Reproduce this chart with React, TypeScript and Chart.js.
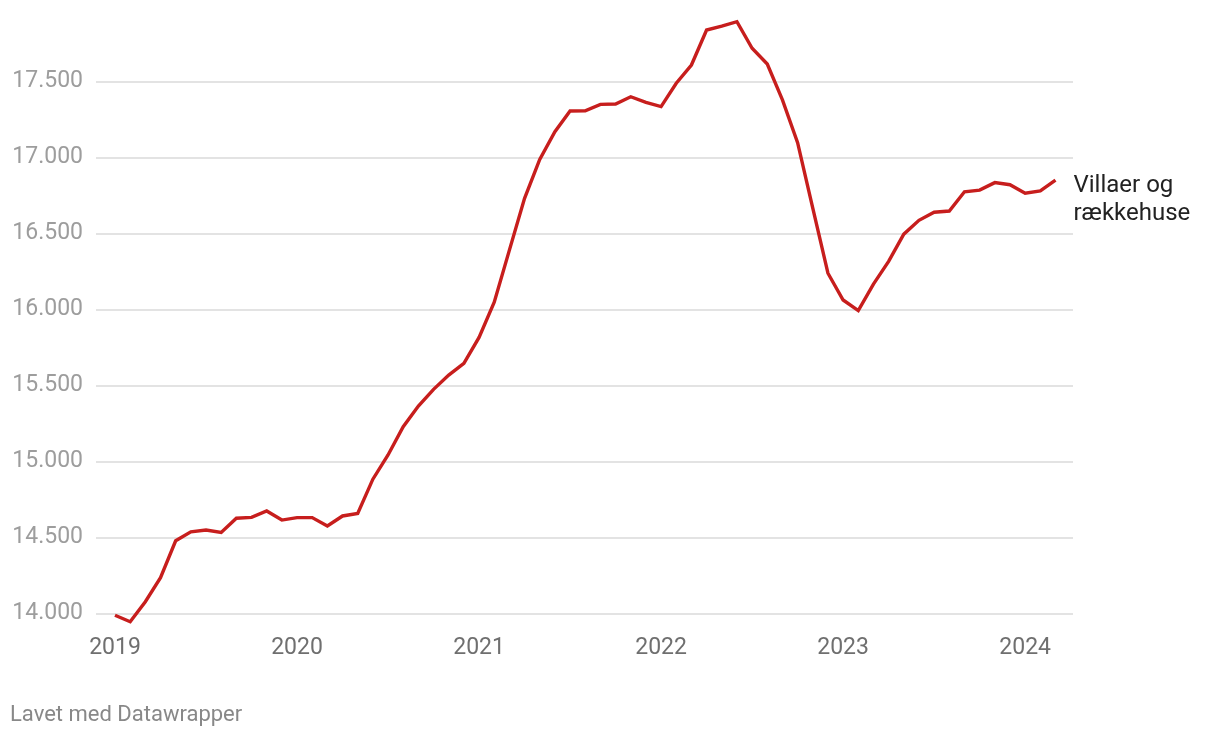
import React, { useEffect, useRef } from "react";
import { Chart, registerables } from "chart.js";

Chart.register(...registerables);

// Monthly observations, Jan 2019 – Mar 2024
const months = [
  "2019-01", "2019-02", "2019-03", "2019-04", "2019-05", "2019-06", "2019-07", "2019-08", "2019-09", "2019-10", "2019-11", "2019-12",
  "2020-01", "2020-02", "2020-03", "2020-04", "2020-05", "2020-06", "2020-07", "2020-08", "2020-09", "2020-10", "2020-11", "2020-12",
  "2021-01", "2021-02", "2021-03", "2021-04", "2021-05", "2021-06", "2021-07", "2021-08", "2021-09", "2021-10", "2021-11", "2021-12",
  "2022-01", "2022-02", "2022-03", "2022-04", "2022-05", "2022-06", "2022-07", "2022-08", "2022-09", "2022-10", "2022-11", "2022-12",
  "2023-01", "2023-02", "2023-03", "2023-04", "2023-05", "2023-06", "2023-07", "2023-08", "2023-09", "2023-10", "2023-11", "2023-12",
  "2024-01", "2024-02", "2024-03",
];

const villaerValues = [
  13990, 13947, 14079, 14237, 14480, 14539, 14551, 14535, 14628, 14634, 14676, 14616,
  14632, 14632, 14577, 14643, 14660, 14885, 15044, 15230, 15366, 15476, 15570, 15647,
  15818, 16049, 16392, 16733, 16989, 17171, 17307, 17309, 17351, 17353, 17401, 17364,
  17336, 17490, 17610, 17840, 17866, 17895, 17720, 17616, 17380, 17099, 16668, 16240,
  16064, 15994, 16168, 16318, 16497, 16588, 16641, 16649, 16776, 16787, 16836, 16822,
  16766, 16781, 16853,
];

const seriesLabelLines = ["Villaer og", "rækkehuse"];
const yearTickLabels = ["2019", "2020", "2021", "2022", "2023", "2024"];
const yearTickMonths = ["2019-01", "2020-01", "2021-01", "2022-01", "2023-01", "2024-01"];
const yTickValues = [14000, 14500, 15000, 15500, 16000, 16500, 17000, 17500];
const footerText = "Lavet med Datawrapper";

const fmt = (v: number) => {
  const s = Math.round(v).toString();
  return s.replace(/\B(?=(\d{3})+(?!\d))/g, ".");
};

export default function App() {
  const canvasRef = useRef<HTMLCanvasElement | null>(null);

  useEffect(() => {
    const canvas = canvasRef.current;
    if (!canvas) return;
    Chart.defaults.font.family = "Roboto";

    const yearTickIdx = yearTickMonths.map((m) => months.indexOf(m));

    const labelPlugin = {
      id: "labels",
      afterDraw(chart: any) {
        const ctx = chart.ctx;
        const meta = chart.getDatasetMeta(0);
        const last = meta.data[meta.data.length - 1];
        ctx.save();
        ctx.fillStyle = "#222222";
        ctx.font = "24px Roboto";
        ctx.textAlign = "left";
        ctx.textBaseline = "middle";
        seriesLabelLines.forEach((t, i) => {
          ctx.fillText(t, last.x + 18, last.y + 6 + i * 28);
        });
        ctx.fillStyle = "#888888";
        ctx.font = "22px Roboto";
        ctx.fillText(footerText, 10, 715);
        ctx.restore();
      },
    };

    const chart = new Chart(canvas, {
      type: "line",
      data: {
        datasets: [
          {
            label: seriesLabelLines.join(" "),
            data: villaerValues.map((v, i) => ({ x: i, y: v })),
            borderColor: "#c71e1d",
            borderWidth: 3.4,
            pointRadius: 0,
            tension: 0,
            fill: false,
          },
        ],
      },
      options: {
        animation: false,
        responsive: false,
        events: [],
        layout: { padding: { top: 13.3, right: 147, left: 0, bottom: 0 } },
        plugins: { legend: { display: false }, tooltip: { enabled: false } },
        scales: {
          x: {
            type: "linear",
            min: -1.2526,
            max: 63.155,
            grid: { display: false },
            border: { display: false },
            afterBuildTicks: (axis: any) => {
              axis.ticks = yearTickIdx.map((v) => ({ value: v }));
            },
            afterFit: (axis: any) => {
              axis.height = 109.1;
              axis.paddingLeft = 0;
              axis.paddingRight = 0;
            },
            ticks: {
              autoSkip: false,
              maxRotation: 0,
              padding: -2,
              color: "#6f6f6f",
              font: { size: 23, family: "Roboto" },
              callback: (v: any) => {
                const k = yearTickIdx.indexOf(Number(v));
                return k >= 0 ? yearTickLabels[k] : "";
              },
            },
          },
          y: {
            type: "linear",
            min: 13900,
            max: 17950,
            border: { display: false },
            grid: { color: "#e3e3e3", lineWidth: 2, drawTicks: false },
            afterBuildTicks: (axis: any) => {
              axis.ticks = yTickValues.map((v) => ({ value: v }));
            },
            afterFit: (axis: any) => {
              axis.width = 96;
              axis.paddingTop = 0;
              axis.paddingBottom = 0;
            },
            ticks: {
              padding: 13,
              color: "#9d9d9d",
              font: { size: 23, family: "Roboto" },
              callback: (v: any) => fmt(Number(v)),
            },
          },
        },
      },
      plugins: [labelPlugin],
    } as any);

    return () => chart.destroy();
  }, []);

  return (
    <div style={{ position: "absolute", left: 0, top: 0, width: 1220, height: 738, background: "#fff" }}>
      <canvas ref={canvasRef} width={1220} height={738} style={{ display: "block" }} />
    </div>
  );
}
